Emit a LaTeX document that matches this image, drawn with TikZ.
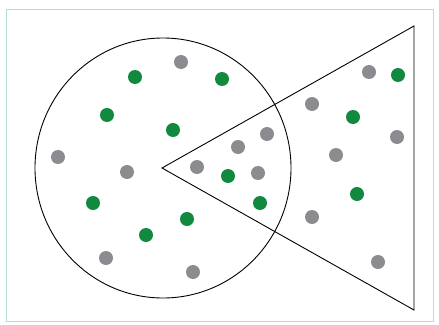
\documentclass[tikz,border=0pt]{standalone}
\begin{document}
\begin{tikzpicture}[x=1pt,y=-1pt]
\definecolor{dotgreen}{HTML}{118A3F}
\definecolor{dotgrey}{HTML}{8C8C90}
\definecolor{framecol}{HTML}{B5DCD0}
\tikzset{
  gdot/.style={circle,inner sep=0pt,minimum size=14pt,fill=dotgreen,draw=none},
  sdot/.style={circle,inner sep=0pt,minimum size=14pt,fill=dotgrey,draw=none},
  framebox/.style={draw=framecol,line width=1pt},
  outline/.style={draw=black,line width=0.9pt}}
\useasboundingbox (0,0) rectangle (439,324);
\fill[white] (0,0) rectangle (439,324);
\draw[framebox] (6,9) rectangle (433,321);
% circle and triangle
\draw[outline] (163,168) ellipse [x radius=128, y radius=130];
\coordinate (apex) at (162,168);
\coordinate (tr) at (414,26);
\coordinate (br) at (414,310);
\draw[outline,line join=miter] (apex) -- (tr) -- (br) -- cycle;
% green dots
\node[gdot] (g1) at (135,77) {};
\node[gdot] (g2) at (222,79) {};
\node[gdot] (g3) at (107,115) {};
\node[gdot] (g4) at (173,130) {};
\node[gdot] (g5) at (398,75) {};
\node[gdot] (g6) at (353,117) {};
\node[gdot] (g7) at (228,176) {};
\node[gdot] (g8) at (260,203) {};
\node[gdot] (g9) at (357,194) {};
\node[gdot] (g10) at (93,203) {};
\node[gdot] (g11) at (187,219) {};
\node[gdot] (g12) at (146,235) {};
% grey dots
\node[sdot] (s1) at (181,62) {};
\node[sdot] (s2) at (58,157) {};
\node[sdot] (s3) at (127,172) {};
\node[sdot] (s4) at (197,167) {};
\node[sdot] (s5) at (369,72) {};
\node[sdot] (s6) at (312,104) {};
\node[sdot] (s7) at (397,137) {};
\node[sdot] (s8) at (267,134) {};
\node[sdot] (s9) at (238,147) {};
\node[sdot] (s10) at (336,155) {};
\node[sdot] (s11) at (258,173) {};
\node[sdot] (s12) at (312,217) {};
\node[sdot] (s13) at (378,262) {};
\node[sdot] (s14) at (106,258) {};
\node[sdot] (s15) at (193,272) {};
\end{tikzpicture}
\end{document}
